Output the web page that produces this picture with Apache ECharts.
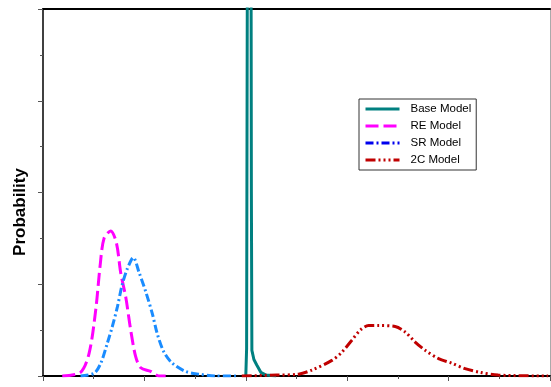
<!DOCTYPE html>
<html>
<head>
<meta charset="utf-8">
<script src="https://cdn.jsdelivr.net/npm/echarts@6/dist/echarts.min.js"></script>
<style>
  html, body { margin: 0; padding: 0; background: #fff; }
  #chart { width: 551px; height: 387px; }
</style>
</head>
<body>
<div id="chart"></div>
<script>
// series names
const seriesNames = ['Base Model', 'RE Model', 'SR Model', '2C Model'];

// [x, probability] pairs
const baseModel = [
  [0.0, 0], [0.008, 0.3], [0.018, 6], [0.035, 7], [0.05, 6], [0.055, 2],
  [0.06, 0.28], [0.08, 0.18], [0.108, 0.12], [0.148, 0.04], [0.2, 0.01], [0.3, 0]
];
const reModel = [
  [-1.81, 0], [-1.63, 0.04], [-1.545, 0.25], [-1.48, 0.72], [-1.437, 1.2],
  [-1.398, 1.5], [-1.332, 1.58], [-1.276, 1.45], [-1.233, 1.12], [-1.184, 0.86],
  [-1.135, 0.5], [-1.086, 0.21], [-1.036, 0.09], [-0.938, 0.05], [-0.856, 0], [-0.79, 0]
];
const srModel = [
  [-1.63, 0], [-1.496, 0.03], [-1.43, 0.14], [-1.365, 0.36], [-1.316, 0.54],
  [-1.267, 0.75], [-1.218, 1.0], [-1.168, 1.17], [-1.109, 1.29], [-1.053, 1.13],
  [-0.987, 0.92], [-0.922, 0.68], [-0.873, 0.46], [-0.807, 0.26], [-0.725, 0.14],
  [-0.594, 0.05], [-0.463, 0.02], [-0.298, 0], [-0.07, 0]
];
const twoCModel = [
  [-0.04, 0], [0.305, 0.01], [0.52, 0.02], [0.653, 0.065], [0.849, 0.17],
  [0.948, 0.26], [1.046, 0.39], [1.129, 0.5], [1.211, 0.55], [1.309, 0.55],
  [1.473, 0.54], [1.572, 0.48], [1.67, 0.37], [1.769, 0.28], [1.9, 0.19],
  [2.03, 0.14], [2.162, 0.08], [2.31, 0.04], [2.49, 0.01], [2.982, 0]
];

const chart = echarts.init(document.getElementById('chart'));

const hiddenAxisBits = {
  axisTick: { show: false },
  axisLabel: { show: false },
  splitLine: { show: false }
};

const option = {
  animation: false,
  grid: { left: 43, right: 1, top: 9, bottom: 11 },
  legend: {
    orient: 'vertical',
    left: 359, top: 99,
    padding: [4, 5, 4, 5],
    itemWidth: 34, itemHeight: 10, itemGap: 5,
    borderColor: '#333', borderWidth: 1,
    itemStyle: { opacity: 0 },
    lineStyle: { width: 3 },
    textStyle: { fontFamily: 'Liberation Sans', fontSize: 11.5, color: '#000', padding: [0, 0, 0, 6] },
    data: [
      { name: seriesNames[0] },
      { name: seriesNames[1] },
      { name: seriesNames[2], lineStyle: { color: '#0000ee' } },
      { name: seriesNames[3] }
    ]
  },
  graphic: [{
    type: 'text',
    x: 20, y: 212,
    rotation: Math.PI / 2,
    style: {
      text: 'Probability',
      font: 'bold 17px "Liberation Sans"',
      fill: '#000',
      textAlign: 'center',
      textVerticalAlign: 'middle'
    }
  }],
  xAxis: [
    {
      type: 'value',
      min: -2, max: 3, interval: 1,
      axisLine: { onZero: false, lineStyle: { color: '#000', width: 2 } },
      axisTick: { length: 5, lineStyle: { color: '#555' } },
      minorTick: { show: true, splitNumber: 2, length: 3, lineStyle: { color: '#555' } },
      axisLabel: { show: false },
      splitLine: { show: false }
    },
    {
      type: 'value', position: 'top',
      min: -2, max: 3,
      axisLine: { show: true, onZero: false, lineStyle: { color: '#000', width: 2 } },
      ...hiddenAxisBits
    }
  ],
  yAxis: [
    {
      type: 'value',
      min: 0, max: 4, interval: 1,
      axisLine: { show: true, onZero: false, lineStyle: { color: '#000', width: 1.5 } },
      axisTick: { show: true, length: 5, lineStyle: { color: '#555' } },
      minorTick: { show: true, splitNumber: 2, length: 3, lineStyle: { color: '#555' } },
      axisLabel: { show: false },
      splitLine: { show: false }
    },
    {
      type: 'value', position: 'right',
      min: 0, max: 4,
      axisLine: { show: true, onZero: false, lineStyle: { color: '#aaa', width: 1 } },
      ...hiddenAxisBits
    }
  ],
  series: [
    {
      name: seriesNames[0], type: 'line', data: baseModel,
      symbol: 'none', clip: true,
      lineStyle: { color: '#008080', width: 3, type: 'solid' },
      itemStyle: { color: '#008080' }
    },
    {
      name: seriesNames[1], type: 'line', data: reModel,
      symbol: 'none', smooth: 0.3,
      lineStyle: { color: '#ff00ff', width: 3, type: [13, 5] },
      itemStyle: { color: '#ff00ff' }
    },
    {
      name: seriesNames[2], type: 'line', data: srModel,
      symbol: 'none', smooth: 0.3,
      lineStyle: { color: '#1a8cff', width: 3, type: [8, 3, 2, 3] },
      itemStyle: { color: '#1a8cff' }
    },
    {
      name: seriesNames[3], type: 'line', data: twoCModel,
      symbol: 'none', smooth: 0.3,
      lineStyle: { color: '#c00000', width: 3, type: [10, 3, 2, 3, 2, 3, 2, 3] },
      itemStyle: { color: '#c00000' }
    }
  ]
};

chart.setOption(option);
</script>
</body>
</html>
